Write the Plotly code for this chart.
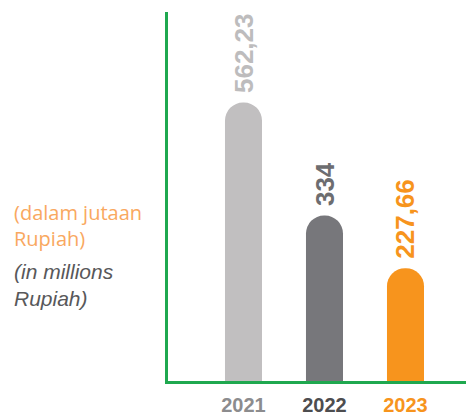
import plotly.graph_objects as go

years = ["2021", "2022", "2023"]
values = [562.23, 334, 227.66]
labels = ["562,23", "334", "227,66"]
bar_colors = ["#c1bfc0", "#77777b", "#f7941d"]
label_colors = ["#bdbcbd", "#6d6d70", "#f7941d"]
tick_colors = ["#8c8c8e", "#4d4d4f", "#f7941d"]

fig = go.Figure()

fig.add_trace(go.Bar(
    x=years,
    y=values,
    width=0.457,
    marker=dict(color=bar_colors, cornerradius="50%", line=dict(width=0)),
    hoverinfo="skip",
))

# value labels above bars (x as category index)
for i, (v, t, c) in enumerate(zip(values, labels, label_colors)):
    fig.add_annotation(
        x=i, y=v, text="<b>" + t + "</b>", textangle=-90,
        showarrow=False, yanchor="bottom", yshift=8,
        font=dict(family="Liberation Sans, Arial", size=26, color=c),
    )

fig.add_annotation(
    xref="paper", yref="paper", x=-0.525, y=0.421,
    xanchor="left", yanchor="middle", align="left", showarrow=False,
    text="(dalam jutaan<br>Rupiah)",
    font=dict(family="Open Sans", size=20, color="#f9a860"),
)
fig.add_annotation(
    xref="paper", yref="paper", x=-0.525, y=0.2615,
    xanchor="left", yanchor="middle", align="left", showarrow=False,
    text="<i>(in millions<br>Rupiah)</i>",
    font=dict(family="Liberation Sans, Arial", size=21, color="#58585a"),
)

fig.update_layout(
    width=466,
    height=416,
    margin=dict(l=168, r=0, t=12, b=35),
    plot_bgcolor="white",
    paper_bgcolor="white",
    showlegend=False,
    xaxis=dict(
        type="category",
        range=[-0.932, 2.747],
        tickvals=years,
        ticktext=["<b><span style='color:%s'>%s</span></b>" % (c, y)
                  for c, y in zip(tick_colors, years)],
        tickfont=dict(family="Liberation Sans, Arial", size=20),
        ticklabelstandoff=4,
        showline=True, linecolor="#1fa84f", linewidth=3,
        showgrid=False, ticks="",
    ),
    yaxis=dict(
        range=[0, 745],
        showline=True, linecolor="#1fa84f", linewidth=3,
        showgrid=False, showticklabels=False, ticks="", zeroline=False,
    ),
)

fig.write_html(
    "out.html",
    config={"displayModeBar": False},
    post_script="document.body.style.margin='0';",
)
